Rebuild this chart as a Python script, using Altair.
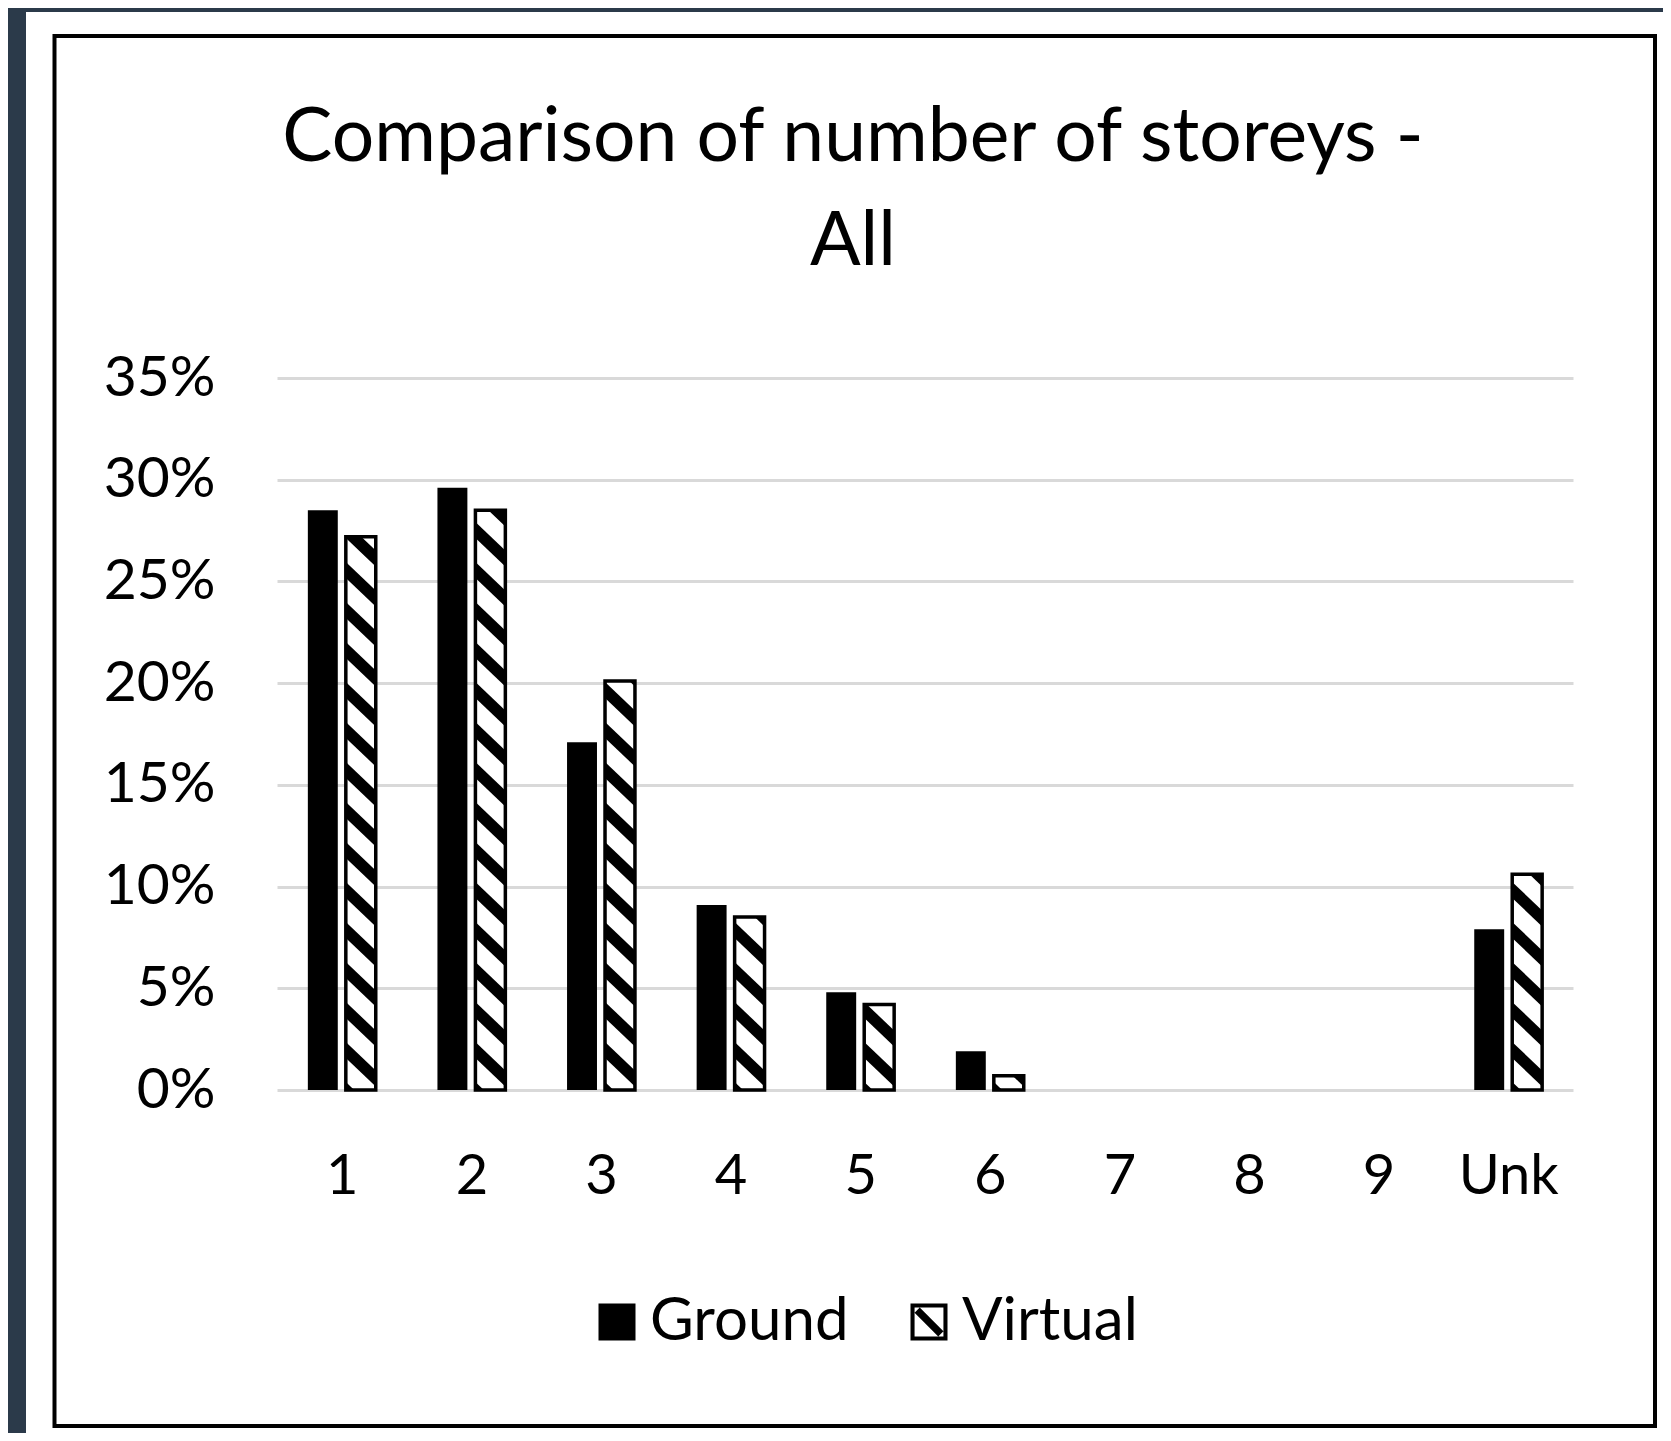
import altair as alt
import pandas as pd

# ---- data ----
categories = ["1", "2", "3", "4", "5", "6", "7", "8", "9", "Unk"]
ground = [28.5, 29.6, 17.1, 9.1, 4.8, 1.9, 0.0, 0.0, 0.0, 7.9]
virtual = [27.2, 28.5, 20.1, 8.5, 4.2, 0.7, 0.0, 0.0, 0.0, 10.6]
series_names = ["Ground", "Virtual"]
title_lines = ["Comparison of number of storeys -", "All"]
y_ticks = [0, 5, 10, 15, 20, 25, 30, 35]

# ---- layout (pixels) ----
W, H = 1296, 712
PAD = {"left": 269, "top": 370, "right": 90, "bottom": 343}
FONT = "Lato"
DARK = "#2b3a4a"

# bar geometry inside each category slot (in category units)
G_LO, G_HI = -0.262, -0.031
V_LO, V_HI = 0.031, 0.262

rows = []
for i, c in enumerate(categories):
    rows.append(dict(cat=c, series="Ground", value=ground[i] / 100, x0=i + G_LO, x1=i + G_HI, zero=0.0))
    rows.append(dict(cat=c, series="Virtual", value=virtual[i] / 100, x0=i + V_LO, x1=i + V_HI, zero=0.0))
df = pd.DataFrame(rows)
df_g = df[(df.series == "Ground") & (df.value > 0)]
df_v = df[(df.series == "Virtual") & (df.value > 0)]

# hatch stripes for the "Virtual" bars: parallelogram bands clipped to each bar
sxp = W / 10.0          # px per category unit
syp = H / 35.0          # px per percent
PERIOD, SLOPE, THICK = 40.0, 0.95, 16.0
pts = []
sid = 0
for _, r in df_v.iterrows():
    w = (r.x1 - r.x0) * sxp
    hh = r.value * 100 * syp
    k = 0
    while k * PERIOD <= hh + SLOPE * w + PERIOD:
        c = k * PERIOD
        a = max(0.0, (c - THICK / 2 - hh) / SLOPE)
        b = min(w, (c + THICK / 2) / SLOPE)
        if b - a > 0.3:
            cands = {a, b}
            for bp in ((c - THICK / 2) / SLOPE, (c + THICK / 2 - hh) / SLOPE):
                if a < bp < b:
                    cands.add(bp)
            for xp in sorted(cands):
                lo = max(0.0, c - THICK / 2 - SLOPE * xp)
                hi = min(hh, c + THICK / 2 - SLOPE * xp)
                hi = max(hi, lo)
                pts.append(dict(sid="s%d" % sid, sx=float(r.x0 + xp / sxp),
                                slo=float(lo / syp / 100), shi=float(hi / syp / 100)))
            sid += 1
        k += 1
df_s = pd.DataFrame(pts)

label_expr = "[" + ",".join("'%s'" % c for c in categories) + "][round(datum.value)]"
X_SCALE = alt.Scale(domain=[-0.5, 9.5], nice=False, zero=False)
Y_SCALE = alt.Scale(domain=[0, 0.35], nice=False, zero=True)
X_AX = alt.Axis(values=list(range(len(categories))), labelExpr=label_expr, grid=False,
                ticks=False, tickSize=0, domain=False, labelPadding=59, title=None,
                labelFont=FONT, labelFontSize=56, labelColor="black")
Y_AX = alt.Axis(values=[t / 100 for t in y_ticks], format=".0%", grid=True,
                gridColor="#d9d9d9", gridWidth=3, ticks=False, tickSize=0, domain=False,
                labelPadding=62, title=None, labelFont=FONT, labelFontSize=57,
                labelColor="black")

one = alt.Data(values=[{"a": 1}])

# frame decoration: dark strips and black box
dark_left = alt.Chart(one).mark_rect(color=DARK).encode(
    x=alt.value(-269), x2=alt.value(-251), y=alt.value(-370), y2=alt.value(1055))
dark_top = alt.Chart(one).mark_rect(color=DARK).encode(
    x=alt.value(-269), x2=alt.value(1386), y=alt.value(-370), y2=alt.value(-366))
box = alt.Chart(one).mark_rect(fill=None, fillOpacity=0, stroke="black", strokeWidth=4).encode(
    x=alt.value(-222.5), x2=alt.value(1378), y=alt.value(-342), y2=alt.value(1048))

g_bars = alt.Chart(df_g).mark_rect(color="black").encode(
    x=alt.X("x0:Q", scale=X_SCALE, axis=X_AX), x2="x1",
    y=alt.Y("value:Q", scale=Y_SCALE, axis=Y_AX), y2="zero")
v_fill = alt.Chart(df_v).mark_rect(fill="white").encode(
    x=alt.X("x0:Q", scale=X_SCALE, axis=X_AX), x2="x1",
    y=alt.Y("value:Q", scale=Y_SCALE, axis=Y_AX), y2="zero")
v_hatch = alt.Chart(df_s).mark_area(fill="black", fillOpacity=1, orient="vertical",
                                    interpolate="linear").encode(
    x=alt.X("sx:Q", scale=X_SCALE, axis=X_AX),
    y=alt.Y("shi:Q", scale=Y_SCALE, axis=Y_AX, stack=None),
    y2=alt.Y2("slo"),
    detail=alt.Detail("sid:N"))
v_outline = alt.Chart(df_v).mark_rect(fill=None, fillOpacity=0, stroke="black", strokeWidth=3.5).encode(
    x=alt.X("x0:Q", scale=X_SCALE, axis=X_AX), x2="x1",
    y=alt.Y("value:Q", scale=Y_SCALE, axis=Y_AX), y2="zero")

SQ = "M-1,-1H1V1H-1Z"
HATCH = ("M-1,-1H1V1H-1Z"
         "M-0.78,-0.78V0.78H0.78V-0.78Z"
         "M-0.78,-0.5L-0.5,-0.78L0.78,0.5L0.5,0.78Z")
legend_layer = alt.Chart(pd.DataFrame({"series": series_names})).mark_point(
    filled=True, color="black", opacity=0).encode(
    shape=alt.Shape("series:N", scale=alt.Scale(domain=series_names, range=[SQ, HATCH]),
                    legend=alt.Legend(orient="none", legendX=310, legendY=914,
                                      direction="horizontal", title=None,
                                      labelFont=FONT, labelFontSize=60, labelColor="black",
                                      labelLimit=500,
                                      symbolSize=1369, symbolFillColor="black",
                                      symbolStrokeWidth=0, symbolOpacity=1,
                                      labelOffset=3, columnPadding=50, padding=0)))

chart = alt.layer(
    dark_left, dark_top, box, g_bars, v_fill, v_hatch, v_outline, legend_layer
).properties(
    width=W, height=H,
    autosize=alt.AutoSizeParams(type="none"),
    padding=PAD,
    background="white",
    title=alt.TitleParams(text=title_lines, font=FONT, fontSize=75, fontWeight="normal",
                          color="black", anchor="middle", frame="group", dx=-72,
                          baseline="top", offset=-273, lineHeight=104),
).configure_view(stroke=None)

chart.save("out.html", embed_options={"renderer": "svg", "actions": False})
